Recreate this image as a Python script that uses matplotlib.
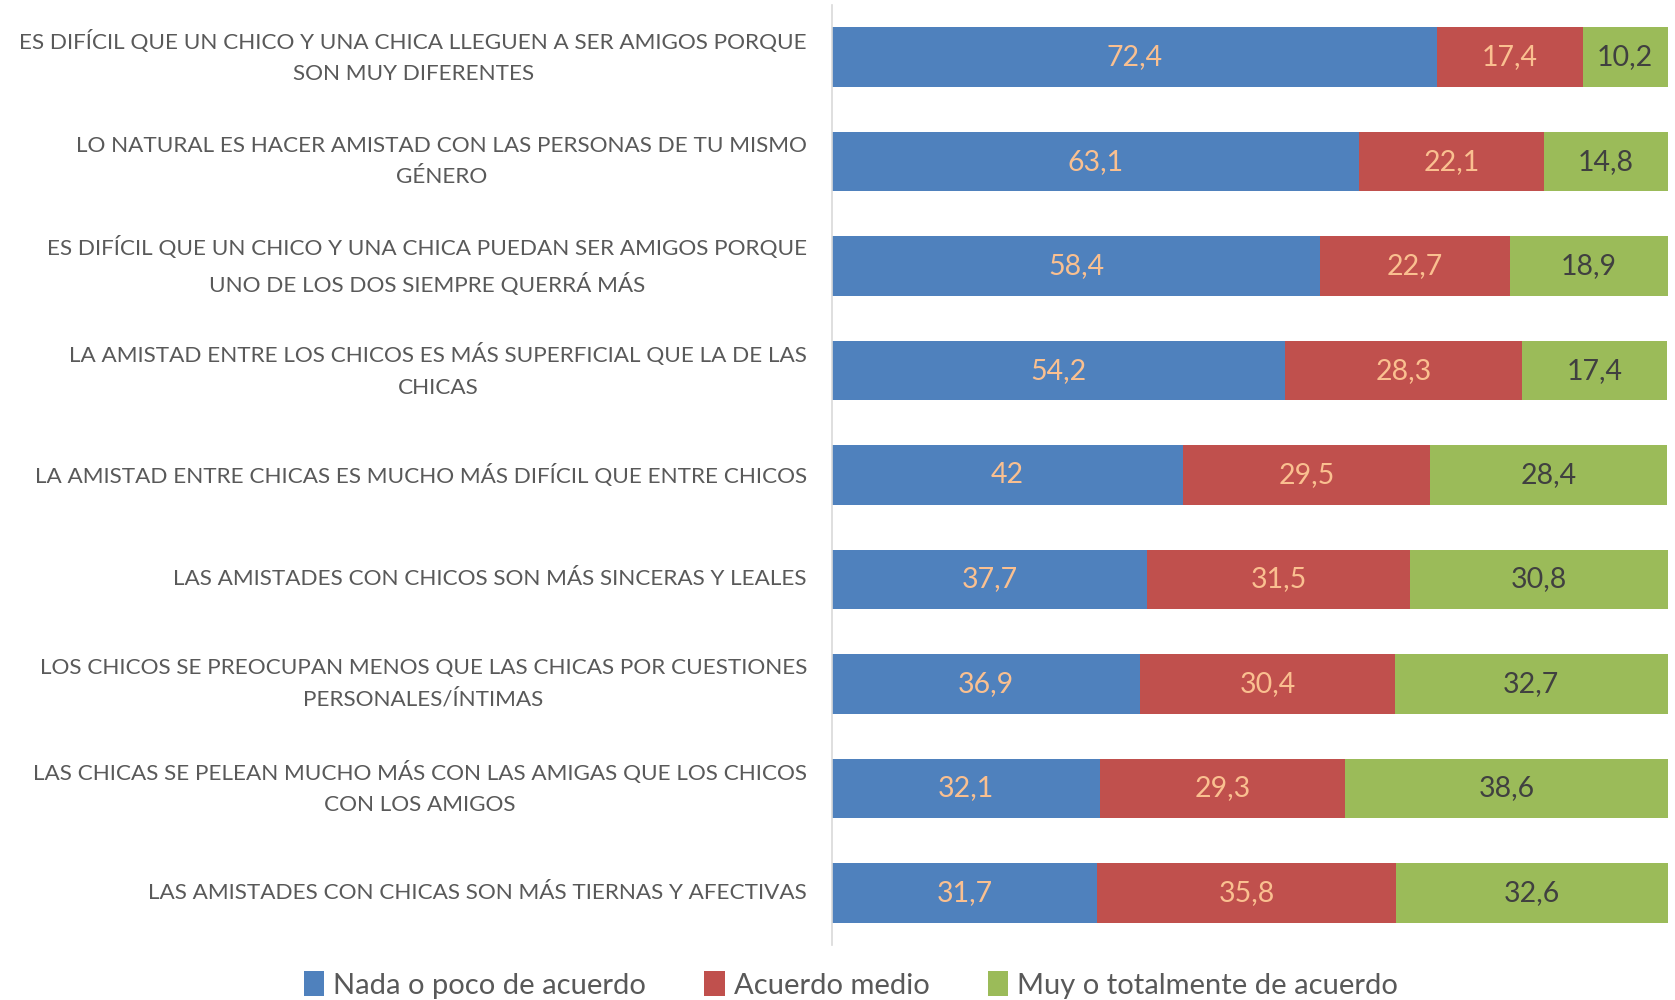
import matplotlib.pyplot as plt
import numpy as np

plt.rcParams['font.family'] = ['Lato', 'DejaVu Sans']

# Statements (top to bottom) and the share of answers per group
labels = [
    "ES DIFÍCIL QUE UN CHICO Y UNA CHICA LLEGUEN A SER AMIGOS PORQUE\nSON MUY DIFERENTES",
    "LO NATURAL ES HACER AMISTAD CON LAS PERSONAS DE TU MISMO\nGÉNERO",
    "ES DIFÍCIL QUE UN CHICO Y UNA CHICA PUEDAN SER AMIGOS PORQUE\nUNO DE LOS DOS SIEMPRE QUERRÁ MÁS",
    "LA AMISTAD ENTRE LOS CHICOS ES MÁS SUPERFICIAL QUE LA DE LAS\nCHICAS",
    "LA AMISTAD ENTRE CHICAS ES MUCHO MÁS DIFÍCIL QUE ENTRE CHICOS",
    "LAS AMISTADES CON CHICOS SON MÁS SINCERAS Y LEALES",
    "LOS CHICOS SE PREOCUPAN MENOS QUE LAS CHICAS POR CUESTIONES\nPERSONALES/ÍNTIMAS",
    "LAS CHICAS SE PELEAN MUCHO MÁS CON LAS AMIGAS QUE LOS CHICOS\nCON LOS AMIGOS",
    "LAS AMISTADES CON CHICAS SON MÁS TIERNAS Y AFECTIVAS",
]
nada = [72.4, 63.1, 58.4, 54.2, 42, 37.7, 36.9, 32.1, 31.7]
medio = [17.4, 22.1, 22.7, 28.3, 29.5, 31.5, 30.4, 29.3, 35.8]
muy = [10.2, 14.8, 18.9, 17.4, 28.4, 30.8, 32.7, 38.6, 32.6]

series = [
    ("Nada o poco de acuerdo", nada, "#4F81BD", "#FAC090"),
    ("Acuerdo medio", medio, "#C0504D", "#FAC090"),
    ("Muy o totalmente de acuerdo", muy, "#9BBB59", "#404040"),
]

fig = plt.figure(figsize=(16.75, 10), dpi=100)
ax = fig.add_axes([0.4967, 0.055, 0.4991, 0.94])

y = np.arange(len(labels))
left = np.zeros(len(labels))
for name, vals, color, tcolor in series:
    vals = np.array(vals)
    bars = ax.barh(y, vals, left=left, height=0.57, color=color, label=name)
    txt = [f"{v:g}".replace(".", ",") for v in vals]
    ax.bar_label(bars, labels=txt, label_type='center', color=tcolor, fontsize=20.5)
    left += vals

ax.set_xlim(0, 100)
ax.set_ylim(len(labels) - 0.5, -0.5)
ax.set_yticks(y)
ax.set_yticklabels(labels, fontsize=16.2, color='#595959', ha='right', va='center',
                   multialignment='center', linespacing=1.7)
ax.tick_params(axis='y', length=0, pad=18)
ax.set_xticks([])
for s in ['top', 'right', 'bottom']:
    ax.spines[s].set_visible(False)
ax.spines['left'].set_color('#D9D9D9')
ax.spines['left'].set_linewidth(1.2)

handles, names = ax.get_legend_handles_labels()
fig.legend(handles, names, loc='center', bbox_to_anchor=(0.508, 0.015), ncol=3,
           frameon=False, fontsize=21, labelcolor='#595959', handlelength=0.7,
           handleheight=0.9, handletextpad=0.3, columnspacing=2.0)

fig.savefig('out.png', dpi=100)
